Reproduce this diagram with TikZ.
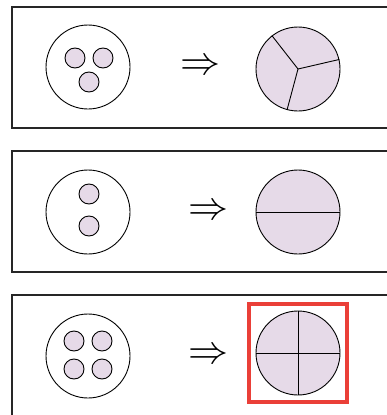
\documentclass[tikz,border=0pt]{standalone}
\begin{document}
\begin{tikzpicture}[x=1pt,y=-1pt,
  panel/.style={draw=black!85,line width=1.3pt},
  big/.style={circle,draw=black,line width=0.9pt,minimum size=84pt,inner sep=0pt},
  bigfill/.style={big,fill=lav},
  small/.style={circle,draw=black,line width=0.9pt,fill=lav,minimum size=20pt,inner sep=0pt},
  arr/.style={inner sep=0pt,font=\fontsize{10}{12}\selectfont},
  divline/.style={draw=black,line width=0.9pt},
  hl/.style={draw=hlred,line width=3.6pt}]
\definecolor{lav}{HTML}{E6DAE8}
\definecolor{hlred}{HTML}{EA3F38}
\useasboundingbox (0,0) rectangle (386,415);
% panels
\draw[panel] (12,7) rectangle (400,128);
\draw[panel] (12,151) rectangle (400,272);
\draw[panel] (12,295) rectangle (400,430);
% panel 1
\node[big] (l1) at (88,67) {};
\node[small] (a1) at (75,58) {};
\node[small] (b1) at (103,58) {};
\node[small] (c1) at (89,82) {};
\node[arr] (r1) at (200,67) {\scalebox{4}{$\Rightarrow$}};
\node[bigfill] (p1) at (298,69) {};
\draw[divline] (p1.center) -- (p1.128);
\draw[divline] (p1.center) -- (p1.13);
\draw[divline] (p1.center) -- (p1.-105);
% panel 2
\node[big] (l2) at (88,212) {};
\node[small] (a2) at (89,194) {};
\node[small] (b2) at (89,226) {};
\node[arr] (r2) at (208,212) {\scalebox{4}{$\Rightarrow$}};
\node[bigfill] (p2) at (298,212) {};
\draw[divline] (p2.west) -- (p2.east);
% panel 3
\node[big] (l3) at (88,356) {};
\node[small] (a3) at (74,341) {};
\node[small] (b3) at (102,341) {};
\node[small] (c3) at (74,369) {};
\node[small] (d3) at (102,369) {};
\node[arr] (r3) at (208,356) {\scalebox{4}{$\Rightarrow$}};
\node[bigfill] (p3) at (298,353) {};
\draw[divline] (p3.west) -- (p3.east);
\draw[divline] (p3.north) -- (p3.south);
\node[hl,minimum size=98pt,inner sep=0pt] (box) at (298,353) {};
\end{tikzpicture}
\end{document}
